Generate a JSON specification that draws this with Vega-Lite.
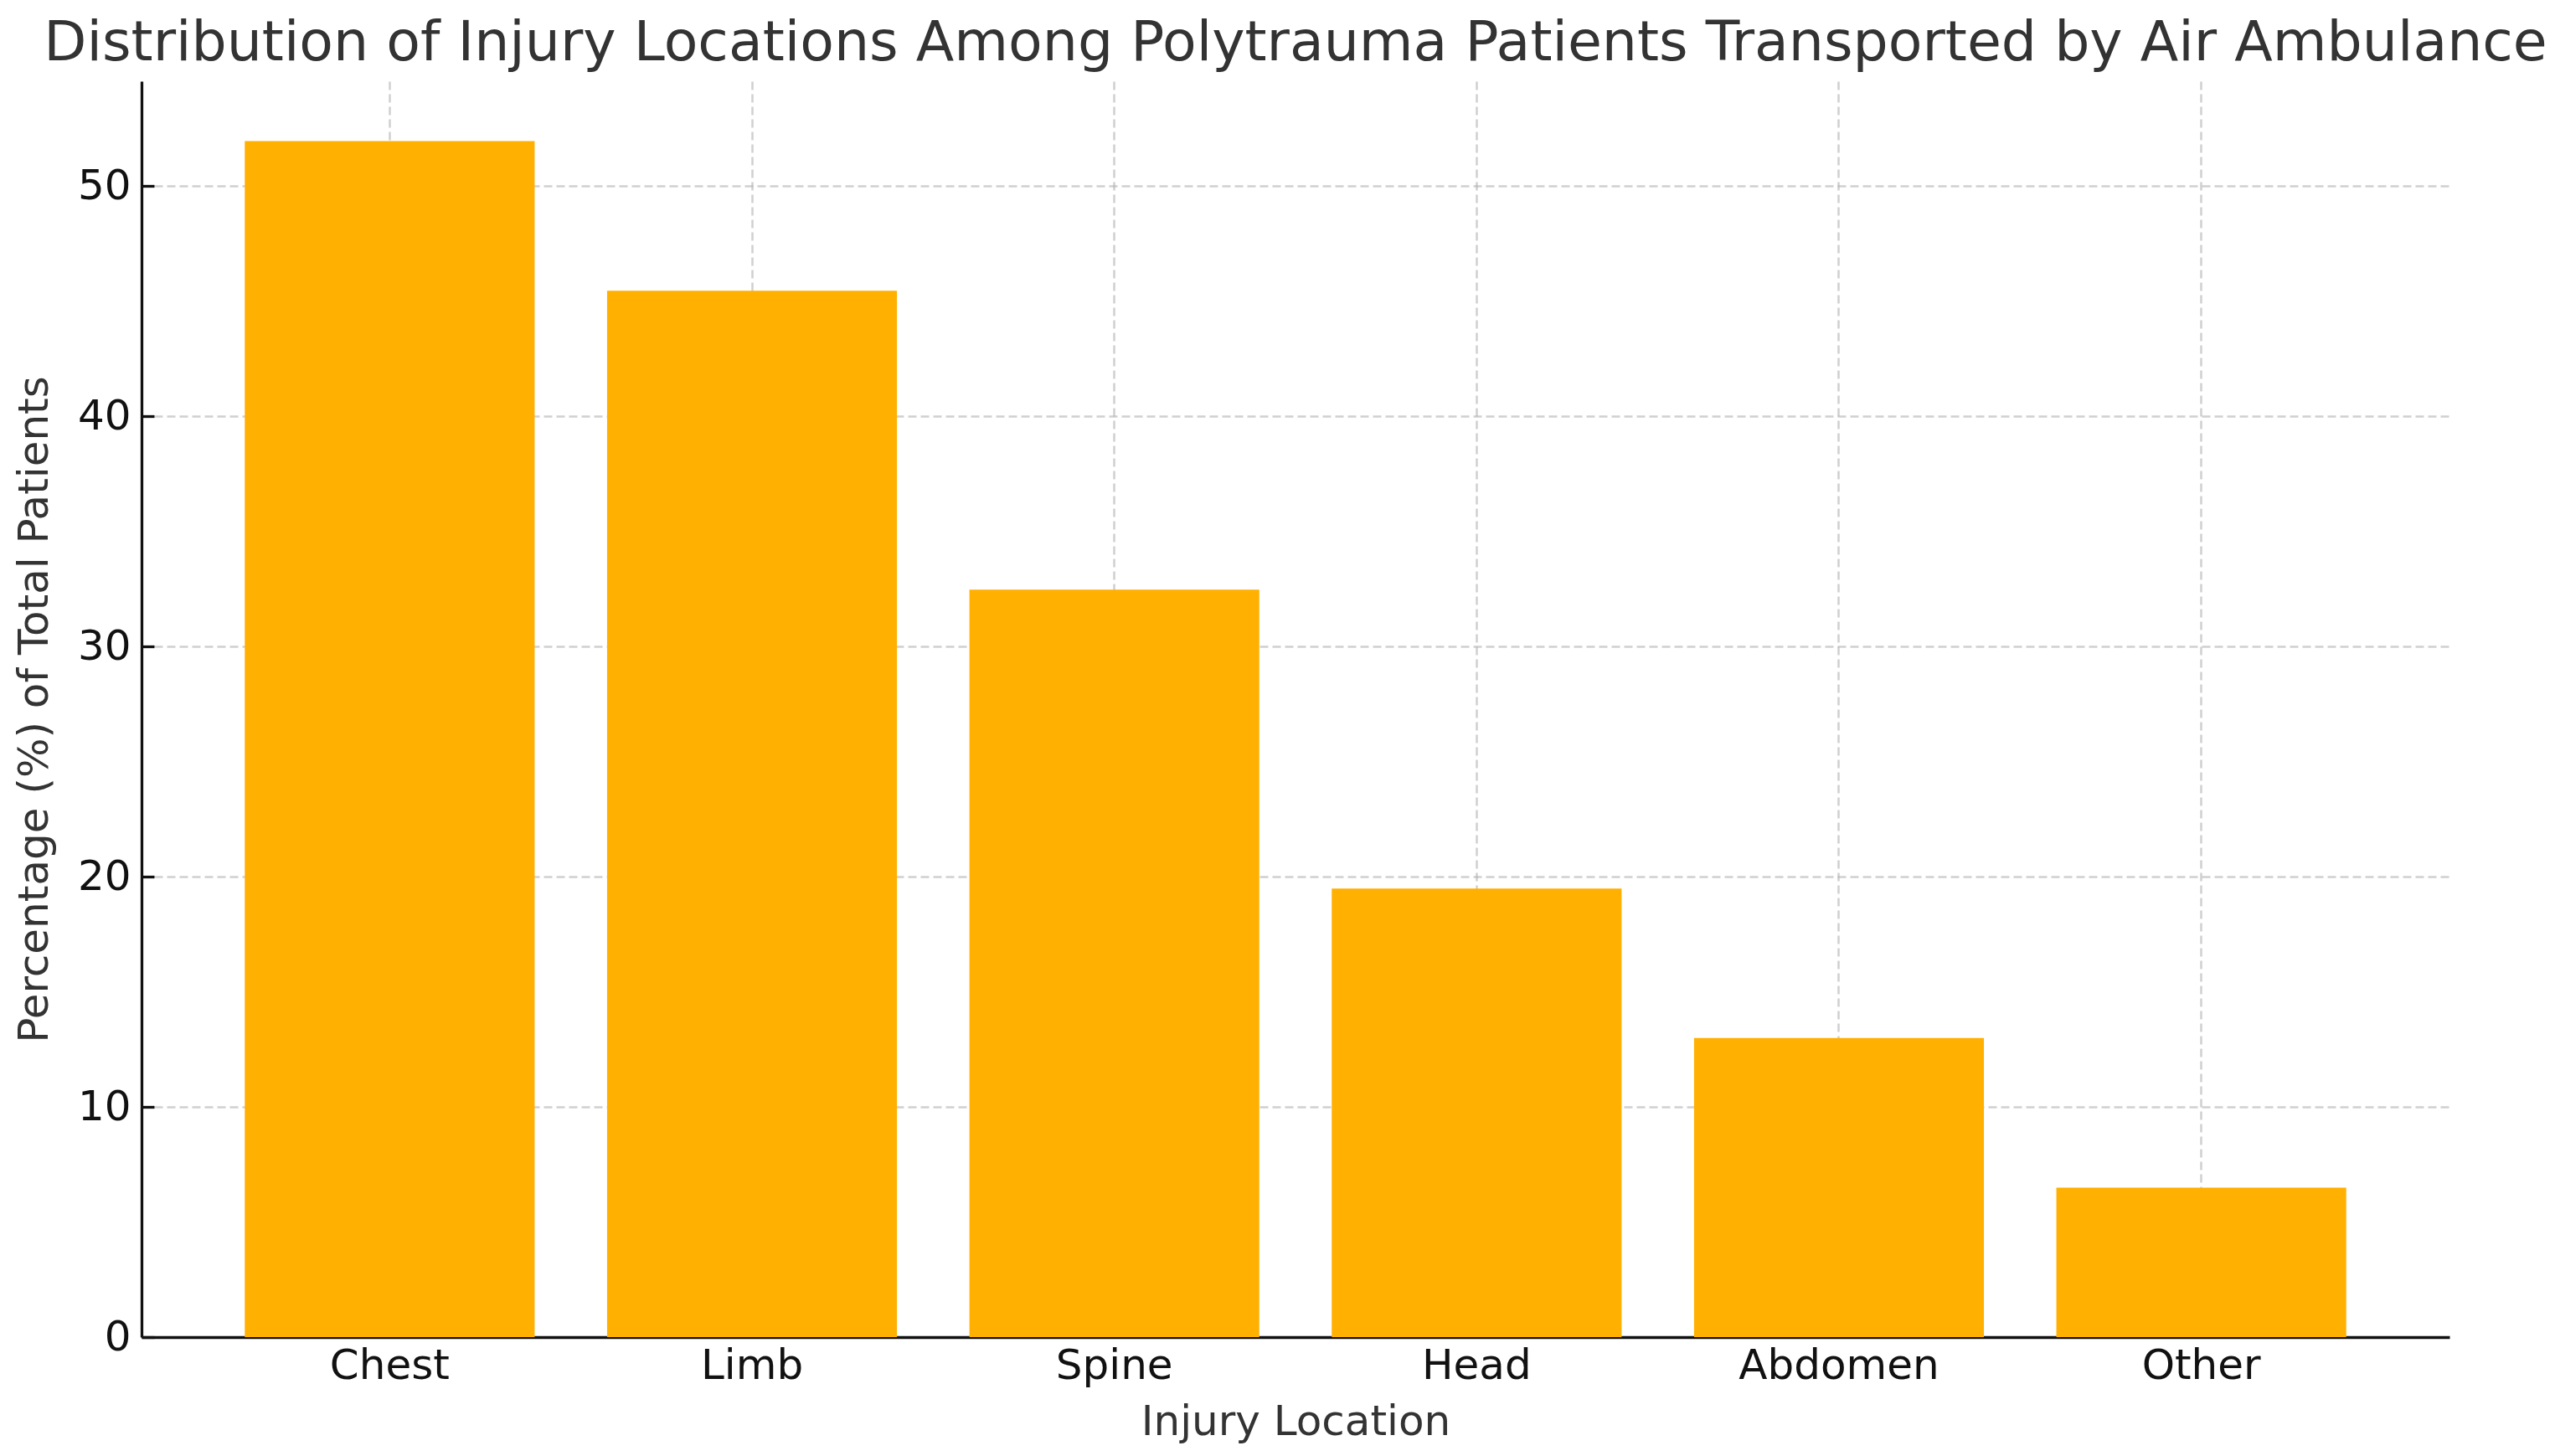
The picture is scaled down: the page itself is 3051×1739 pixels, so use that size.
{
  "$schema": "https://vega.github.io/schema/vega-lite/v6.json",
  "width": 2756,
  "height": 1500,
  "autosize": {"type": "none"},
  "padding": {"left": 169, "top": 97, "right": 126, "bottom": 142},
  "background": "white",
  "title": {
    "text": "Distribution of Injury Locations Among Polytrauma Patients Transported by Air Ambulance",
    "font": "DejaVu Sans",
    "fontSize": 66.5,
    "fontWeight": "normal",
    "color": "#333333",
    "anchor": "middle",
    "baseline": "alphabetic",
    "offset": 23,
    "dy": 64
  },
  "data": {
    "values": [
      {"location": "Chest", "percentage": 51.95},
      {"location": "Limb", "percentage": 45.45},
      {"location": "Spine", "percentage": 32.47},
      {"location": "Head", "percentage": 19.48},
      {"location": "Abdomen", "percentage": 12.99},
      {"location": "Other", "percentage": 6.49}
    ]
  },
  "config": {
    "view": {"stroke": null},
    "axis": {
      "labelFont": "DejaVu Sans",
      "titleFont": "DejaVu Sans",
      "labelFontSize": 50,
      "titleFontSize": 50,
      "titleFontWeight": "normal",
      "labelColor": "#111111",
      "titleColor": "#333333",
      "labelLimit": 0,
      "domainColor": "#111111",
      "domainWidth": 3.3,
      "tickColor": "#111111",
      "tickWidth": 3.3,
      "tickSize": -15,
      "gridColor": "#b0b0b0",
      "gridOpacity": 0.6,
      "gridWidth": 2.5,
      "gridDash": [10, 5],
      "zindex": 1
    }
  },
  "mark": {"type": "bar", "color": "#FFB000"},
  "encoding": {
    "x": {
      "field": "location",
      "type": "nominal",
      "sort": null,
      "scale": {"paddingInner": 0.2, "paddingOuter": 0.285},
      "axis": {
        "title": "Injury Location",
        "labelAngle": 0,
        "labelPadding": 24,
        "titlePadding": 17,
        "bandPosition": 0.5,
        "grid": true
      }
    },
    "y": {
      "field": "percentage",
      "type": "quantitative",
      "scale": {"domain": [0, 54.55], "nice": false},
      "axis": {
        "title": "Percentage (%) of Total Patients",
        "values": [0, 10, 20, 30, 40, 50],
        "labelPadding": 28,
        "titlePadding": 26,
        "grid": true
      }
    }
  }
}
